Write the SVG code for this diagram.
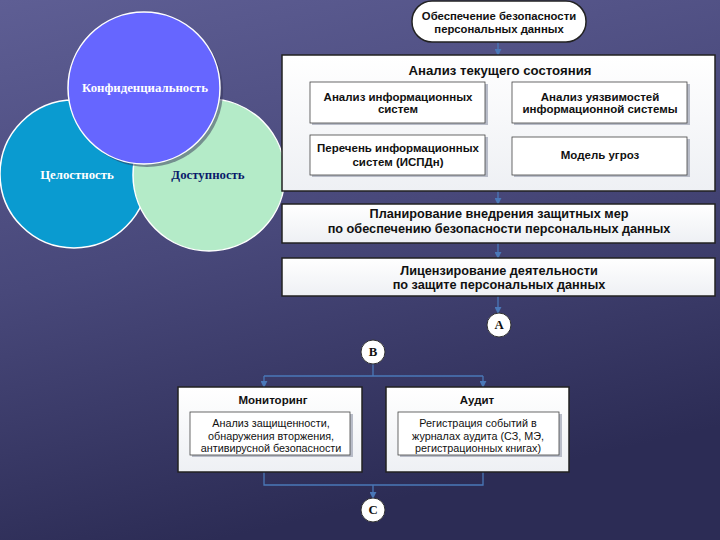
<svg xmlns="http://www.w3.org/2000/svg" width="720" height="540" viewBox="0 0 720 540">
<defs>
<linearGradient id="bg" x1="0" y1="0" x2="0.3" y2="1">
<stop offset="0" stop-color="#5e5e94"/>
<stop offset="0.5" stop-color="#48487a"/>
<stop offset="1" stop-color="#2c2c55"/>
</linearGradient>
<linearGradient id="boxfill" x1="0" y1="0" x2="0" y2="1">
<stop offset="0" stop-color="#ffffff"/>
<stop offset="1" stop-color="#eef0f4"/>
</linearGradient>
<marker id="arr" viewBox="0 0 8 8" refX="7" refY="4" markerWidth="7" markerHeight="7" orient="auto" markerUnits="userSpaceOnUse">
<path d="M0,0 L8,4 L0,8 z" fill="#4a78b8"/>
</marker>
</defs>
<style>
.big{fill:url(#boxfill);stroke:#222;stroke-width:1.5}
.sub{fill:#ffffff;stroke:#444;stroke-width:0.8}
.shadow{fill:#b8bcc8}
.t{font-family:"Liberation Sans",Arial,sans-serif;font-weight:bold;fill:#111;text-anchor:middle}
.r{font-family:"Liberation Sans",Arial,sans-serif;fill:#111;text-anchor:middle;font-size:10.8px}
.c{font-family:"Liberation Serif","Times New Roman",serif;font-weight:bold;text-anchor:middle;font-size:12.8px}
.conn{fill:none;stroke:#4a78b8;stroke-width:1.3}
.circ{fill:#ffffff;stroke:#333;stroke-width:1}
</style>
<rect width="720" height="540" fill="url(#bg)"/>

<g id="venn">
<g id="integrity">
<circle cx="74" cy="174" r="74" fill="#0a9bd0" stroke="#ffffff" stroke-width="1.5"/>
<text class="c" x="77" y="179" fill="#ffffff" font-size="12.5">Целостность</text>
</g>
<g id="availability">
<circle cx="209" cy="175" r="76" fill="#b4ebc8" stroke="#ffffff" stroke-width="1.5"/>
<text class="c" x="208" y="179" fill="#0a1a6a" font-size="12.5">Доступность</text>
</g>
<g id="confidentiality">
<circle cx="147" cy="91" r="76" fill="#333355" opacity="0.5"/>
<circle cx="144" cy="88" r="76" fill="#6666ff" stroke="#ffffff" stroke-width="1.5"/>
<text class="c" x="145" y="92" fill="#ffffff">Конфиденциальность</text>
</g>
</g>

<g id="connectors">
<line class="conn" x1="498" y1="42" x2="498" y2="55" marker-end="url(#arr)"/>
<line class="conn" x1="390" y1="124" x2="390" y2="134" marker-end="url(#arr)"/>
<line class="conn" x1="592" y1="124" x2="592" y2="134" marker-end="url(#arr)"/>
<line class="conn" x1="498" y1="191" x2="498" y2="204" marker-end="url(#arr)"/>
<line class="conn" x1="498" y1="243" x2="498" y2="258" marker-end="url(#arr)"/>
<line class="conn" x1="498" y1="296" x2="498" y2="313" marker-end="url(#arr)"/>
<polyline class="conn" points="373,364 373,376"/>
<line class="conn" x1="264" y1="376" x2="483" y2="376"/>
<line class="conn" x1="264" y1="376" x2="264" y2="387" marker-end="url(#arr)"/>
<line class="conn" x1="483" y1="376" x2="483" y2="387" marker-end="url(#arr)"/>
<polyline class="conn" points="264,472 264,485 483,485 483,472"/>
<line class="conn" x1="373" y1="485" x2="373" y2="498" marker-end="url(#arr)"/>
</g>

<g id="n-top">
<rect x="412" y="1" width="174" height="41" rx="20" ry="20" fill="#ffffff" stroke="#222" stroke-width="1.5"/>
<text class="t" x="499" y="20" font-size="11.3">Обеспечение безопасности</text>
<text class="t" x="499" y="33" font-size="11.3">персональных данных</text>
</g>

<g id="n-analysis">
<rect class="big" x="282" y="55" width="433" height="136"/>
<text class="t" x="500" y="75" font-size="13.2">Анализ текущего состояния</text>
</g>

<g id="n-is">
<rect class="shadow" x="312" y="84" width="176" height="41"/>
<rect class="sub" x="310" y="82" width="175" height="41"/>
<text class="t" x="398" y="101" font-size="11.5">Анализ информационных</text>
<text class="t" x="398" y="113" font-size="11.5">систем</text>
</g>

<g id="n-vuln">
<rect class="shadow" x="514" y="84" width="176" height="41"/>
<rect class="sub" x="512" y="82" width="175" height="41"/>
<text class="t" x="600" y="101" font-size="11.5">Анализ уязвимостей</text>
<text class="t" x="600" y="113" font-size="11.5">информационной системы</text>
</g>

<g id="n-list">
<rect class="shadow" x="312" y="137" width="176" height="40"/>
<rect class="sub" x="310" y="135" width="175" height="40"/>
<text class="t" x="398" y="152" font-size="11.5">Перечень информационных</text>
<text class="t" x="398" y="166" font-size="11.5">систем (ИСПДн)</text>
</g>

<g id="n-threat">
<rect class="shadow" x="514" y="139" width="176" height="38"/>
<rect class="sub" x="512" y="137" width="175" height="38"/>
<text class="t" x="600" y="159" font-size="11.5">Модель угроз</text>
</g>

<g id="n-plan">
<rect class="big" x="282" y="204" width="433" height="39"/>
<text class="t" x="499" y="218" font-size="12.7">Планирование внедрения защитных мер</text>
<text class="t" x="499" y="233" font-size="12.7">по обеспечению безопасности персональных данных</text>
</g>

<g id="n-license">
<rect class="big" x="282" y="258" width="433" height="38"/>
<text class="t" x="499" y="275" font-size="12.7">Лицензирование деятельности</text>
<text class="t" x="499" y="289" font-size="12.7">по защите персональных данных</text>
</g>

<g id="n-A">
<circle class="circ" cx="499" cy="325" r="12"/>
<text class="c" x="499" y="329" fill="#111" font-size="11">A</text>
</g>

<g id="n-B">
<circle class="circ" cx="373" cy="352" r="12"/>
<text class="c" x="373" y="356" fill="#111" font-size="11">B</text>
</g>

<g id="n-C">
<circle class="circ" cx="373" cy="510" r="12"/>
<text class="c" x="373" y="514" fill="#111" font-size="11">C</text>
</g>

<g id="n-monitoring">
<rect class="big" x="178" y="387" width="184" height="85"/>
<text class="t" x="273" y="404" font-size="11.5">Мониторинг</text>
<rect class="shadow" x="192" y="414" width="161" height="43"/>
<rect class="sub" x="190" y="412" width="160" height="43"/>
<text class="r" x="271" y="427">Анализ защищенности,</text>
<text class="r" x="271" y="440">обнаружения вторжения,</text>
<text class="r" x="271" y="452">антивирусной безопасности</text>
</g>

<g id="n-audit">
<rect class="big" x="386" y="387" width="183" height="85"/>
<text class="t" x="477" y="404" font-size="11.5">Аудит</text>
<rect class="shadow" x="400" y="414" width="162" height="43"/>
<rect class="sub" x="398" y="412" width="161" height="43"/>
<text class="r" x="478" y="427">Регистрация событий в</text>
<text class="r" x="478" y="440">журналах аудита (СЗ, МЭ,</text>
<text class="r" x="478" y="452">регистрационных книгах)</text>
</g>
</svg>
